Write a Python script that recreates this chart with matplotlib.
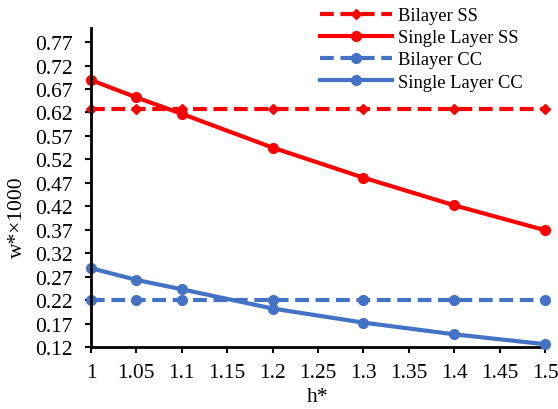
import matplotlib.pyplot as plt
import numpy as np

## data

h = [1.0, 1.05, 1.1, 1.2, 1.3, 1.4, 1.5]
bilayer_ss = [0.627, 0.627, 0.627, 0.627, 0.627, 0.627, 0.627]
single_ss = [0.689, 0.652, 0.617, 0.545, 0.481, 0.422, 0.369]
bilayer_cc = [0.22, 0.22, 0.22, 0.22, 0.22, 0.22, 0.22]
single_cc = [0.288, 0.263, 0.243, 0.202, 0.172, 0.147, 0.126]

xticks = np.round(np.arange(1.0, 1.5001, 0.05), 2)
yticks = np.round(np.arange(0.12, 0.7701, 0.05), 2)

red = '#FF0000'
blue = '#4472C4'

plt.rcParams['font.family'] = ['Liberation Serif', 'DejaVu Serif']

fig = plt.figure(figsize=(5.58, 4.10), dpi=100)
ax = fig.add_axes([91/558, 1 - 348/410, (545 - 91)/558, (348 - 29)/410])

lw = 3
dash = (3.3, 1.6)
ax.plot(h, bilayer_ss, color=red, lw=lw, dashes=dash, marker='D', ms=5, label='Bilayer SS')
ax.plot(h, single_ss, color=red, lw=lw, marker='o', ms=7, label='Single Layer SS')
ax.plot(h, bilayer_cc, color=blue, lw=lw, dashes=dash, marker='o', ms=7, label='Bilayer CC')
ax.plot(h, single_cc, color=blue, lw=lw, marker='o', ms=7, label='Single Layer CC')

ax.set_xlim(1.0, 1.5)
ax.set_ylim(0.12, 0.80)
ax.set_xticks(xticks)
ax.set_xticklabels([f'{v:g}' for v in xticks])
ax.set_yticks(yticks)
ax.set_yticklabels([f'{v:.2f}' for v in yticks])
ax.tick_params(labelsize=15.5, direction='out', length=4.5, width=1.5)
ax.tick_params(axis='x', pad=7)
ax.tick_params(axis='y', pad=9)
for s in ['top', 'right']:
    ax.spines[s].set_visible(False)
for s in ['left', 'bottom']:
    ax.spines[s].set_linewidth(2)
ax.spines['bottom'].set_zorder(0)

ax.set_xlabel('h*', fontsize=15.5)
ax.set_ylabel('w*×1000', fontsize=15.5)
ax.xaxis.set_label_coords(0.5, -0.154)
ax.yaxis.set_label_coords(-0.163, 0.41)
ax.xaxis.label.set_va('center')
ax.yaxis.label.set_va('center')

ax.legend(loc='upper right', bbox_to_anchor=(523/558, 1 - 8/410), bbox_transform=fig.transFigure,
          frameon=False, fontsize=13.3, handlelength=3.9, handletextpad=0.33,
          labelspacing=0.28, borderaxespad=0, borderpad=0)
for line in ax.get_legend().get_lines():
    line.set_markevery([1])

for line in ax.get_lines():
    line.set_clip_on(False)

fig.savefig('out.png', dpi=100)
